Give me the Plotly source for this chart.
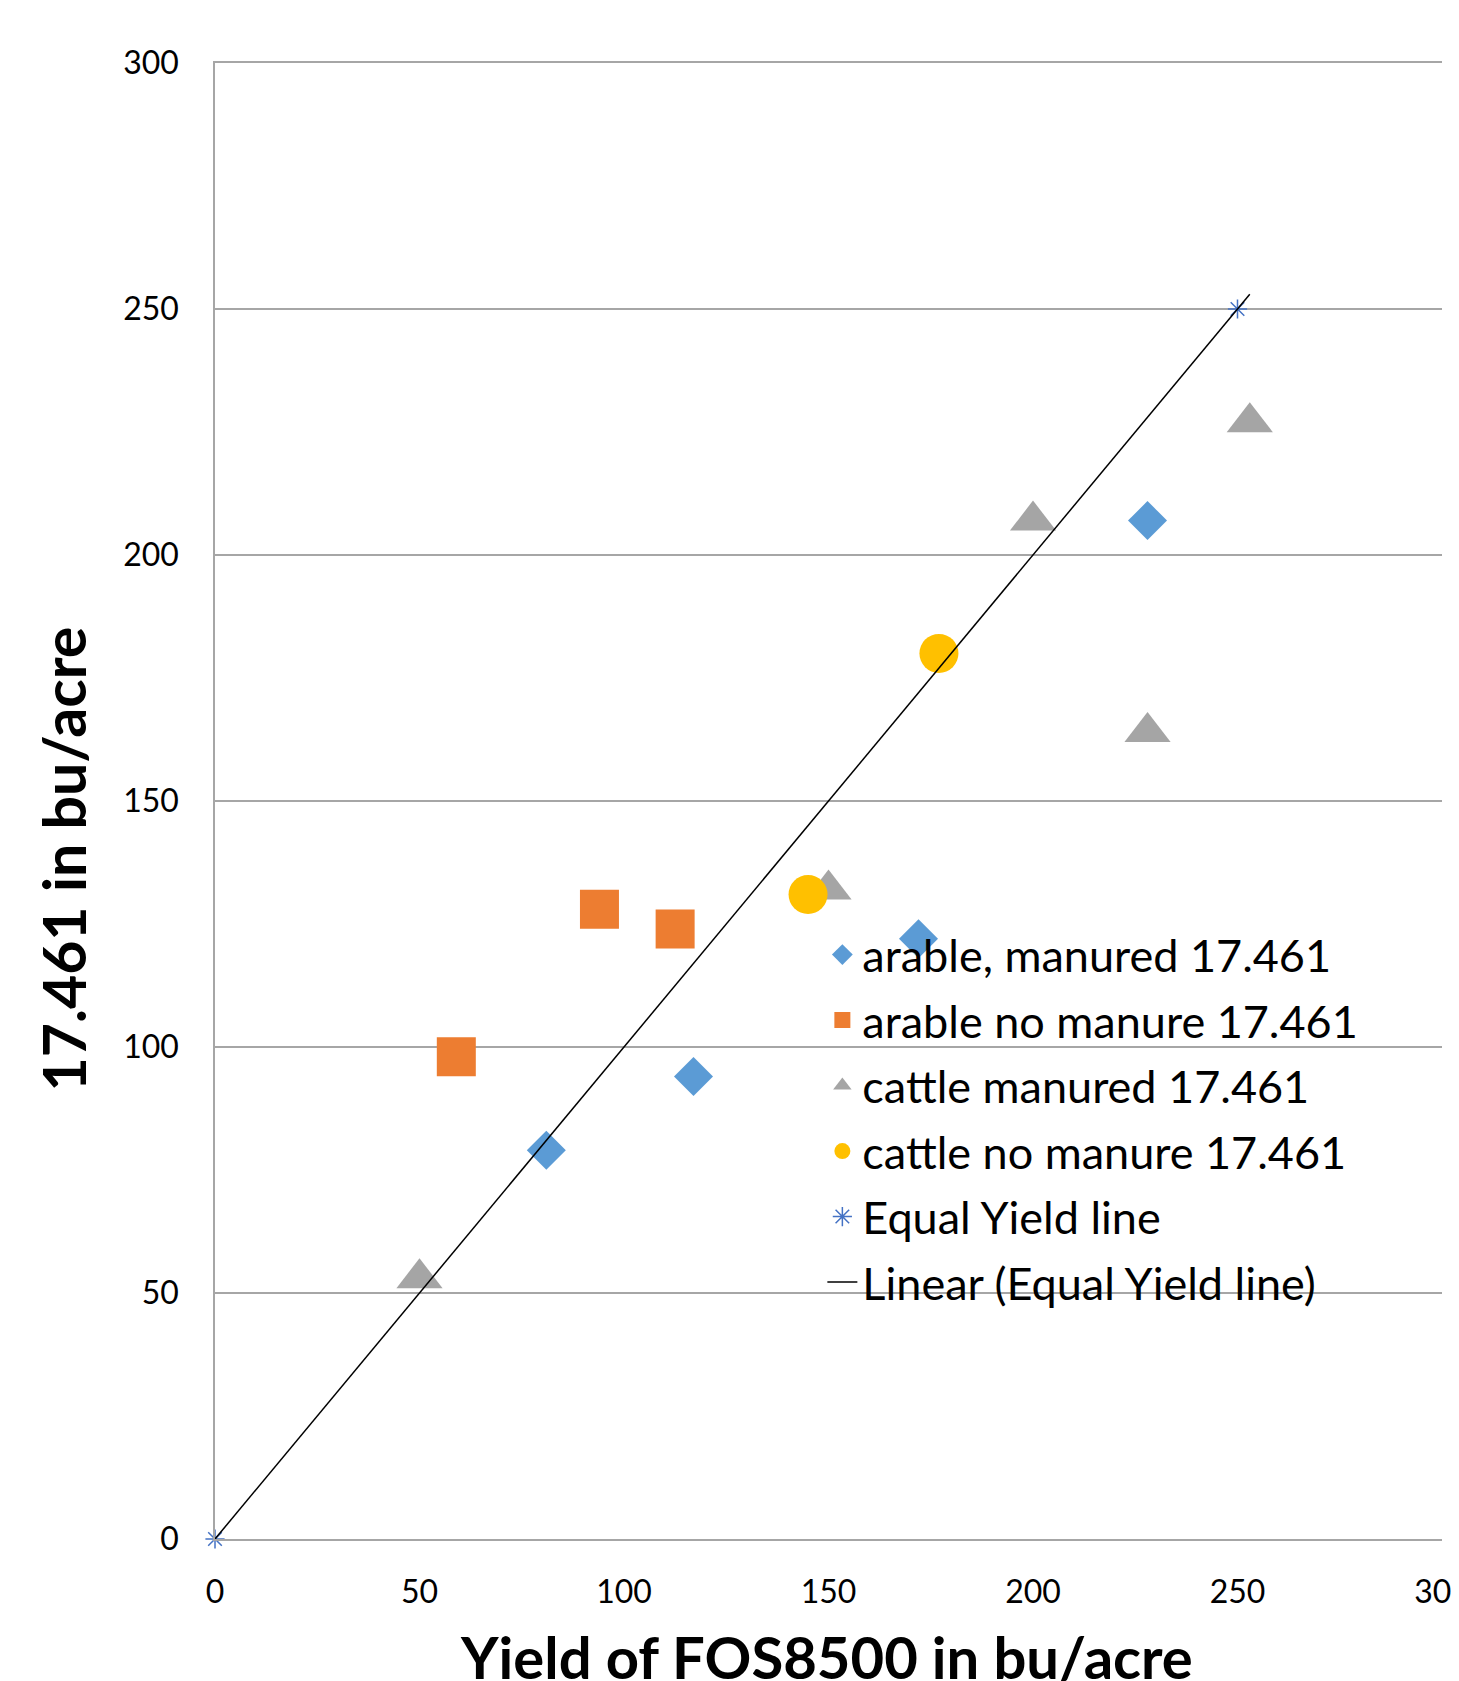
import numpy as np
import plotly.graph_objects as go

# ---- data ----
arable_manured_x = [81, 117, 172, 228]
arable_manured_y = [79, 94, 122, 207]

arable_nomanure_x = [59, 94, 112.5]
arable_nomanure_y = [98, 128, 124]

cattle_manured_x = [50, 150, 200, 228, 253]
cattle_manured_y = [53, 132, 207, 164, 227]

cattle_nomanure_x = [145, 177]
cattle_nomanure_y = [131, 180]

equal_x = [0, 250]
equal_y = [0, 250]
trend_forward = 3  # trendline forward forecast (units)

x_ticks = [0, 50, 100, 150, 200, 250, 300]
y_ticks = [0, 50, 100, 150, 200, 250, 300]

names = [
    "arable, manured 17.461",
    "arable no manure 17.461",
    "cattle manured 17.461",
    "cattle no manure 17.461",
    "Equal Yield line",
    "Linear (Equal Yield line)",
]
x_title = "Yield of FOS8500 in bu/acre"
y_title = "17.461 in bu/acre"

# linear trendline fitted on the equal-yield series
slope, intercept = np.polyfit(equal_x, equal_y, 1)
trend_x = np.array([min(equal_x), max(equal_x) + trend_forward])
trend_y = slope * trend_x + intercept

FONT = "Lato"
GRID = "#A6A6A6"
fig = go.Figure()

fig.add_trace(go.Scatter(x=arable_manured_x, y=arable_manured_y, mode="markers", name=names[0],
                         legendgroup="g1",
                         marker=dict(symbol="diamond", size=30, color="#5B9BD5", line=dict(width=0))))
fig.add_trace(go.Scatter(x=arable_nomanure_x, y=arable_nomanure_y, mode="markers", name=names[1],
                         legendgroup="g2",
                         marker=dict(symbol="square", size=39, color="#ED7D31", line=dict(width=0))))
fig.add_trace(go.Scatter(x=cattle_manured_x, y=cattle_manured_y, mode="markers", name=names[2],
                         legendgroup="g3",
                         marker=dict(symbol="triangle-up", size=40, color="#A5A5A5", line=dict(width=0))))
fig.add_trace(go.Scatter(x=cattle_nomanure_x, y=cattle_nomanure_y, mode="markers", name=names[3],
                         legendgroup="g4",
                         marker=dict(symbol="circle", size=39, color="#FFC000", line=dict(width=0))))
fig.add_trace(go.Scatter(x=equal_x, y=equal_y, mode="markers", name=names[4],
                         legendgroup="g5", cliponaxis=False,
                         marker=dict(symbol="asterisk-open", size=16, color="#4472C4",
                                     line=dict(width=1.5, color="#4472C4"))))
fig.add_trace(go.Scatter(x=trend_x, y=trend_y, mode="lines", name=names[5],
                         legendgroup="g6", cliponaxis=False,
                         line=dict(color="black", width=1.5)))

# axis titles
fig.add_annotation(text="<b>" + y_title + "</b>", xref="paper", yref="paper",
                   x=-0.1238, y=0.4604, xanchor="center", yanchor="middle",
                   textangle=-90, showarrow=False,
                   font=dict(size=59, family=FONT, color="black"))
fig.add_annotation(text="<b>" + x_title + "</b>", xref="paper", yref="paper",
                   x=0.4984, y=-0.0549, xanchor="center", yanchor="top",
                   showarrow=False,
                   font=dict(size=58, family=FONT, color="black"))

fig.update_layout(
    width=1451, height=1673,
    margin=dict(l=207, r=17, t=55, b=142, autoexpand=False),
    paper_bgcolor="white", plot_bgcolor="white",
    font=dict(family=FONT, color="black", size=32),
    showlegend=True,
    legend=dict(x=0.495, y=0.4202, xanchor="left", yanchor="top",
                bgcolor="rgba(0,0,0,0)", font=dict(family=FONT, size=45, color="black"),
                tracegroupgap=4),
    xaxis=dict(range=[0, 300], tickvals=x_ticks, ticktext=[str(v) for v in x_ticks],
               showgrid=False, zeroline=False, showline=True, mirror=True,
               linecolor=GRID, linewidth=1.5, ticks="", automargin=False,
               ticklabeloverflow="allow",
               ticklabelstandoff=24, tickfont=dict(size=32, family=FONT, color="black")),
    yaxis=dict(range=[0, 300], tickvals=y_ticks, ticktext=[str(v) for v in y_ticks],
               showgrid=True, gridcolor=GRID, gridwidth=1.5, automargin=False,
               zeroline=False, showline=True, linecolor=GRID, linewidth=1.5, ticks="",
               ticklabelstandoff=28, tickfont=dict(size=32, family=FONT, color="black")),
)

fig.write_html("out.html")
